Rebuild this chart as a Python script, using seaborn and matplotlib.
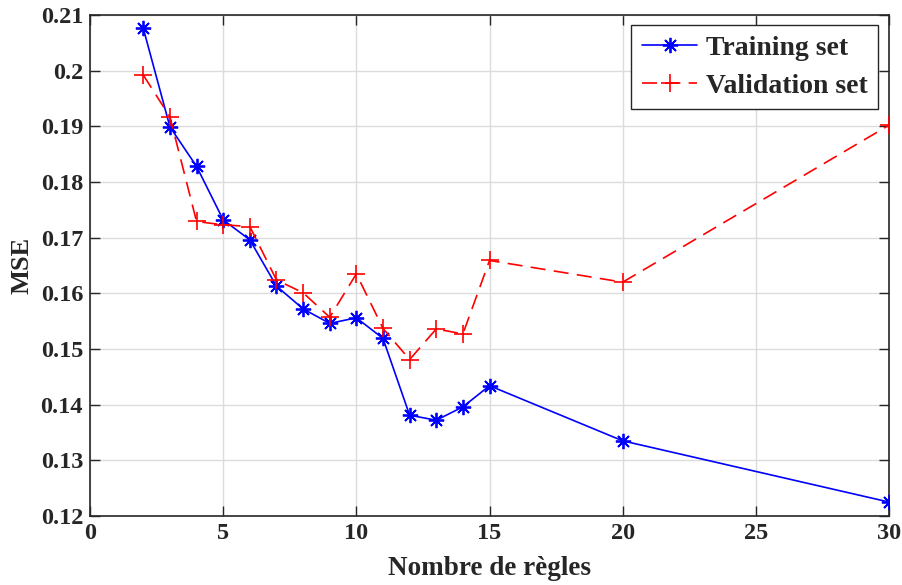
import matplotlib
matplotlib.use("Agg")
import matplotlib.pyplot as plt
import seaborn as sns
import pandas as pd

# Number of fuzzy rules and the corresponding mean squared errors
rules = [2, 3, 4, 5, 6, 7, 8, 9, 10, 11, 12, 13, 14, 15, 20, 30]
mse_training = [0.2076, 0.1899, 0.1828, 0.1732, 0.1696, 0.1613, 0.1572, 0.1546,
                0.1556, 0.1519, 0.1381, 0.1372, 0.1396, 0.1434, 0.1335, 0.1225]
mse_validation = [0.1992, 0.1917, 0.1729, 0.1723, 0.1720, 0.1624, 0.1601, 0.1557,
                  0.1635, 0.1537, 0.1481, 0.1536, 0.1527, 0.1659, 0.1620, 0.1902]
series_names = ["Training set", "Validation set"]
x_ticks = [0, 5, 10, 15, 20, 25, 30]
y_ticks = [0.12, 0.13, 0.14, 0.15, 0.16, 0.17, 0.18, 0.19, 0.20, 0.21]
y_tick_labels = ["0.12", "0.13", "0.14", "0.15", "0.16", "0.17", "0.18", "0.19", "0.2", "0.21"]

df = pd.DataFrame({
    "rules": rules * 2,
    "mse": mse_training + mse_validation,
    "set": [series_names[0]] * len(rules) + [series_names[1]] * len(rules),
})

sns.set_style("ticks")
plt.rcParams["font.family"] = ["Liberation Serif", "DejaVu Serif"]
plt.rcParams["font.weight"] = "bold"

fig = plt.figure(figsize=(9.03, 5.85), dpi=100)
ax = fig.add_axes([0.0997, 0.118, 0.8848, 0.8564])

spine_color = "#262626"
asterisk = (8, 2, 0)

sns.lineplot(data=df[df["set"] == series_names[0]], x="rules", y="mse", ax=ax,
             color="#0000ff", linewidth=1.2, marker=asterisk, markersize=11,
             markeredgewidth=1.3, markeredgecolor="#0000ff",
             label=series_names[0], zorder=3)
sns.lineplot(data=df[df["set"] == series_names[1]], x="rules", y="mse", ax=ax,
             color="#ff0000", linewidth=1.2, marker="+", markersize=13,
             markeredgewidth=1.2, markeredgecolor="#ff0000",
             label=series_names[1], zorder=3)
ax.lines[1].set_linestyle((0, (9, 5)))

ax.set_xlim(0, 30)
ax.set_ylim(0.12, 0.21)
ax.set_xticks(x_ticks)
ax.set_yticks(y_ticks)
ax.set_yticklabels(y_tick_labels)
ax.grid(True, color="#dcdcdc", linewidth=1.0)
ax.set_axisbelow(True)

ax.tick_params(axis="both", which="both", direction="in", length=7, width=1.0,
               colors=spine_color, top=True, right=True, labelsize=17.5, pad=5)
for lbl in ax.get_xticklabels() + ax.get_yticklabels():
    lbl.set_fontweight("bold")
    lbl.set_color(spine_color)
for side in ["left", "right", "top", "bottom"]:
    ax.spines[side].set_visible(True)
    ax.spines[side].set_color(spine_color)
    ax.spines[side].set_linewidth(1.2)

ax.set_xlabel("Nombre de règles", fontsize=19.5, fontweight="bold", color=spine_color, labelpad=9)
ax.set_ylabel("MSE", fontsize=19, fontweight="bold", color=spine_color, labelpad=5)

leg = ax.legend(loc="upper right", bbox_to_anchor=(0.9862, 0.980), borderaxespad=0,
                prop={"weight": "bold", "size": 20}, frameon=True,
                fancybox=False, edgecolor=spine_color, framealpha=1.0,
                handlelength=2.0, handletextpad=0.3, labelspacing=0.45,
                borderpad=0.38)
leg.get_frame().set_linewidth(1.0)

fig.savefig("out.png", dpi=100)
